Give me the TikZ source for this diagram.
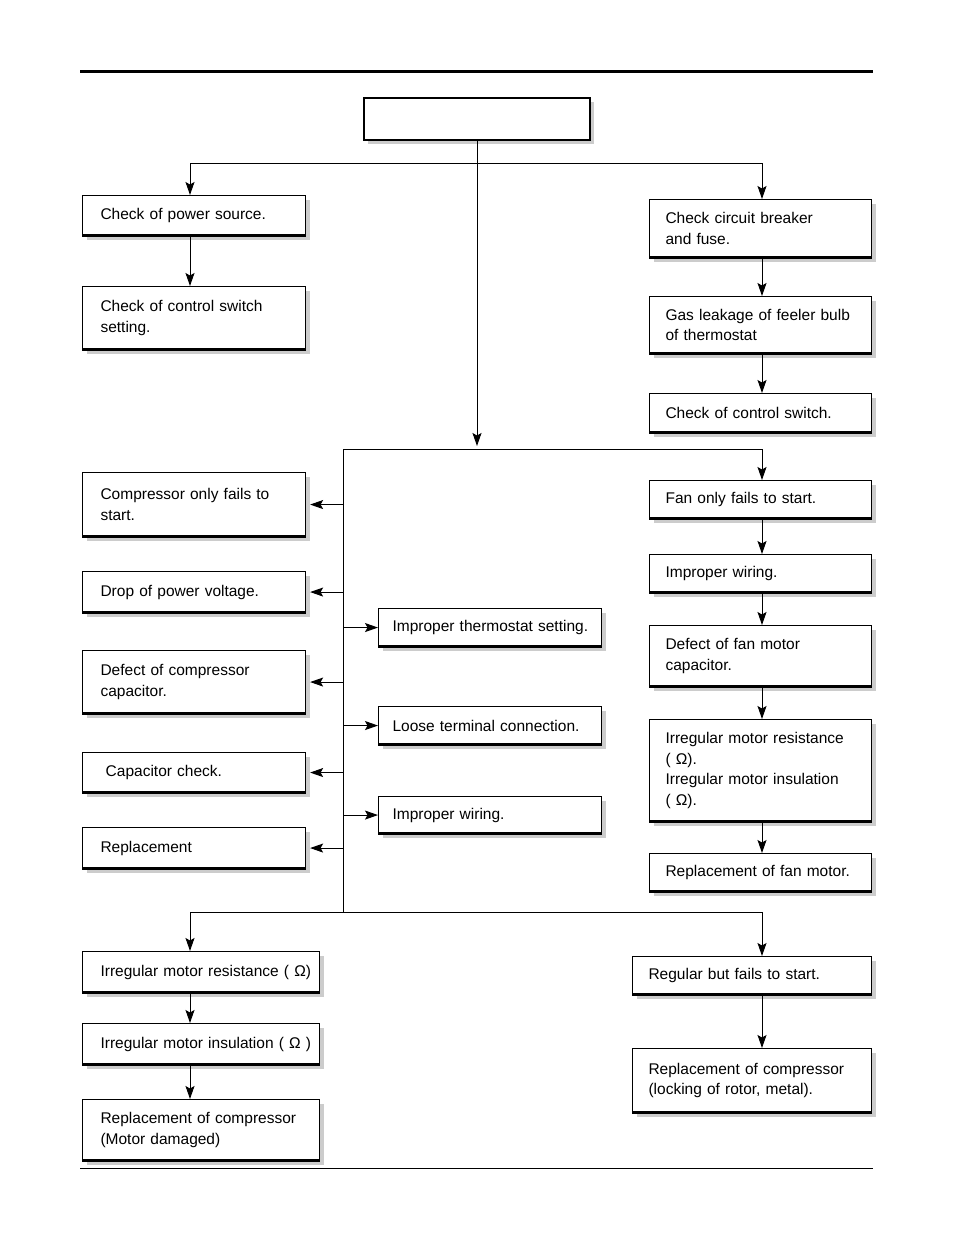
\documentclass[tikz,border=0pt]{standalone}
\usepackage{fontspec}
\setmainfont{Liberation Sans}
\usetikzlibrary{shadows,arrows.meta}
\begin{document}
\begin{tikzpicture}[x=1pt,y=-1pt,
  box/.style={draw, line width=1.1pt, fill=white,
    drop shadow={shadow xshift=4pt, shadow yshift=-4pt, fill=black!20, opacity=1},
    anchor=north west, align=left, inner ysep=0pt,
    font=\fontsize{15.5}{20.5}\selectfont},
  lbox/.style={box, inner xsep=18pt, text width=187pt},
  rbox/.style={box, inner xsep=16pt, text width=190pt},
  mbox/.style={box, inner xsep=14pt, text width=195pt},
  blbox/.style={box, inner xsep=18pt, text width=201pt},
  brbox/.style={box, inner xsep=16pt, text width=207pt},
  conn/.style={line width=1pt},
  arr/.style={conn, -{Stealth[length=13pt,width=9pt,inset=2.5pt]}}]
\useasboundingbox (0,0) rectangle (954,1243);
% page rules
\draw[line width=3pt] (80,71) -- (873,71);
\draw[line width=1pt] (80,1168) -- (873,1168);
% top box
\node[box, line width=2.2pt, minimum width=226pt, minimum height=42pt, inner xsep=0pt] (top) at (363,97) {};
% left column
\node[lbox, minimum height=40pt] (L1) at (82,195) {\mbox{Check of power source.}};
\node[lbox, minimum height=63pt] (L2) at (82,286) {\mbox{Check of control switch}\\setting.};
\node[lbox, minimum height=64pt] (L3) at (82,472) {\mbox{Compressor only fails to}\\start.};
\node[lbox, minimum height=41pt] (L4) at (82,571) {\mbox{Drop of power voltage.}};
\node[lbox, minimum height=63pt] (L5) at (82,650) {\mbox{Defect of compressor}\\capacitor.};
\node[lbox, minimum height=40pt] (L6) at (82,752) {\mbox{\ Capacitor check.}};
\node[lbox, minimum height=41pt] (L7) at (82,827) {Replacement};
% right column
\node[rbox, minimum height=58pt] (R1) at (649,199) {\mbox{Check circuit breaker}\\and fuse.};
\node[rbox, minimum height=57pt] (R2) at (649,296) {\mbox{Gas leakage of feeler bulb}\\\mbox{of thermostat}};
\node[rbox, minimum height=39pt] (R3) at (649,393) {\mbox{Check of control switch.}};
\node[rbox, minimum height=38pt] (R4) at (649,480) {\mbox{Fan only fails to start.}};
\node[rbox, minimum height=38pt] (R5) at (649,554) {\mbox{Improper wiring.}};
\node[rbox, minimum height=61pt] (R6) at (649,625) {\mbox{Defect of fan motor}\\capacitor.};
\node[rbox, minimum height=102pt] (R7) at (649,719) {\mbox{Irregular motor resistance}\\(\ Ω).\\\mbox{Irregular motor insulation}\\(\ Ω).};
\node[rbox, minimum height=38pt] (R8) at (649,853) {\mbox{Replacement of fan motor.}};
% middle column
\node[mbox, minimum height=38pt] (M1) at (378,608) {\mbox{Improper thermostat setting.}};
\node[mbox, minimum height=38pt] (M2) at (378,706) {\mbox{Loose terminal connection.}};
\node[mbox, minimum height=37pt] (M3) at (378,796) {\mbox{Improper wiring.}};
% bottom left
\node[blbox, minimum height=41pt] (B1) at (82,951) {\mbox{Irregular motor resistance (\ Ω)}};
\node[blbox, minimum height=41pt] (B2) at (82,1023) {\mbox{Irregular motor insulation (\ Ω\ )}};
\node[blbox, minimum height=61pt] (B3) at (82,1099) {\mbox{Replacement of compressor}\\\mbox{(Motor damaged)}};
% bottom right
\node[brbox, minimum height=38pt] (BR1) at (632,956) {\mbox{Regular but fails to start.}};
\node[brbox, minimum height=64pt] (BR2) at (632,1048) {\mbox{Replacement of compressor}\\\mbox{(locking of rotor, metal).}};
% thicker bottom edges
\foreach \n in {L1,L2,L3,L4,L5,L6,L7,R1,R2,R3,R4,R5,R6,R7,R8,M1,M2,M3,B1,B2,B3,BR1,BR2}
  \draw[line width=2.2pt] ([yshift=0.6pt]\n.south west) -- ([yshift=0.6pt]\n.south east);
% reference coordinates
\coordinate (xl) at (190,0);
\coordinate (xr) at (762,0);
\coordinate (h1) at (477,163);
\coordinate (hend) at (477,446);
\coordinate (t) at (343,449);
\coordinate (b) at (343,912);
% connectors top
\draw[conn] (top.south -| h1) -- (h1);
\draw[arr] (h1) -| (xl |- L1.north);
\draw[arr] (h1) -| (xr |- R1.north);
\draw[arr] (h1) -- (hend);
\draw[arr] (xl |- L1.south) -- (xl |- L2.north);
\draw[arr] (xr |- R1.south) -- (xr |- R2.north);
\draw[arr] (xr |- R2.south) -- (xr |- R3.north);
% central bus
\draw[arr] (t) -| (xr |- R4.north);
\draw[conn] (t) -- (b);
\draw[arr] (b) -| (xl |- B1.north);
\draw[arr] (b) -| (xr |- BR1.north);
\foreach \n in {L3,L4,L5,L6,L7}
  \draw[arr] (t |- \n.east) -- ([xshift=4pt]\n.east);
\foreach \n in {M1,M2,M3}
  \draw[arr] (t |- \n.west) -- (\n.west);
% right chain
\draw[arr] (xr |- R4.south) -- (xr |- R5.north);
\draw[arr] (xr |- R5.south) -- (xr |- R6.north);
\draw[arr] (xr |- R6.south) -- (xr |- R7.north);
\draw[arr] (xr |- R7.south) -- (xr |- R8.north);
% bottom chains
\draw[arr] (xl |- B1.south) -- (xl |- B2.north);
\draw[arr] (xl |- B2.south) -- (xl |- B3.north);
\draw[arr] (xr |- BR1.south) -- (xr |- BR2.north);
\end{tikzpicture}
\end{document}
